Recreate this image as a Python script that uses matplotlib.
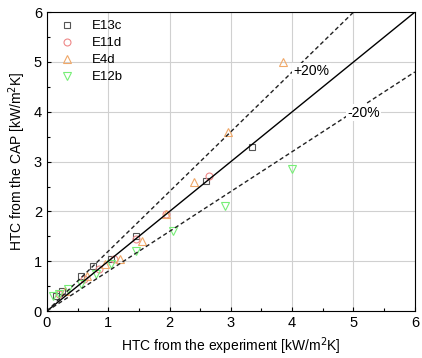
import matplotlib
matplotlib.use("Agg")
import matplotlib.pyplot as plt
from matplotlib.ticker import MultipleLocator

plt.rcParams["font.family"] = ["Liberation Sans", "DejaVu Sans"]

# data (kW/m2K)
e13c_x = [0.15, 0.25, 0.55, 0.75, 1.05, 1.45, 2.6, 3.35]
e13c_y = [0.3, 0.4, 0.7, 0.9, 1.05, 1.5, 2.62, 3.3]
e11d_x = [0.2, 0.6, 0.85, 1.1, 1.45, 1.95, 2.65]
e11d_y = [0.35, 0.65, 0.85, 1.05, 1.45, 1.95, 2.72]
e4d_x = [0.3, 0.65, 0.95, 1.2, 1.55, 1.95, 2.4, 2.95, 3.85]
e4d_y = [0.4, 0.7, 0.95, 1.05, 1.4, 1.95, 2.6, 3.6, 5.0]
e12b_x = [0.1, 0.2, 0.35, 0.55, 0.8, 1.05, 1.45, 2.05, 2.9, 4.0]
e12b_y = [0.3, 0.35, 0.45, 0.55, 0.75, 0.95, 1.2, 1.6, 2.1, 2.85]

fig = plt.figure(figsize=(4.22, 3.58), dpi=100)
ax = fig.add_axes([0.111, 0.131, 0.872, 0.835])

ax.grid(True, color="#d0d0d0", linewidth=0.8)
ax.set_axisbelow(True)

ms = 5
ax.plot(e13c_x, e13c_y, "s", mfc="none", mec="#555555", ms=ms, mew=0.8, label="E13c")
ax.plot(e11d_x, e11d_y, "o", mfc="none", mec="#ee8888", ms=ms, mew=0.8, label="E11d")
ax.plot(e4d_x, e4d_y, "^", mfc="none", mec="#f0a868", ms=ms + 1, mew=0.8, label="E4d")
ax.plot(e12b_x, e12b_y, "v", mfc="none", mec="#77ee77", ms=ms + 1, mew=0.8, label="E12b")

ax.plot([0, 6], [0, 6], color="black", linewidth=1)
ax.plot([0, 5], [0, 6], "--", color="#222222", linewidth=1, dashes=(3, 2))
ax.plot([0, 6], [0, 4.8], "--", color="#222222", linewidth=1, dashes=(3, 2))
box = dict(facecolor="white", edgecolor="none", pad=1)
ax.text(4.02, 4.82, "+20%", fontsize=10, va="center", ha="left", bbox=box)
ax.text(4.9, 3.98, "-20%", fontsize=10, va="center", ha="left", bbox=box)

ax.set_xlim(0, 6)
ax.set_ylim(0, 6)
ax.xaxis.set_major_locator(MultipleLocator(1))
ax.yaxis.set_major_locator(MultipleLocator(1))
ax.xaxis.set_minor_locator(MultipleLocator(0.5))
ax.yaxis.set_minor_locator(MultipleLocator(0.5))
ax.tick_params(which="both", direction="in", labelsize=10.5, width=0.8)
ax.tick_params(which="major", length=3)
ax.tick_params(which="minor", length=2)

ax.set_xlabel("HTC from the experiment [kW/m$^2$K]", fontsize=10)
ax.set_ylabel("HTC from the CAP [kW/m$^2$K]", fontsize=10)

ax.legend(loc="upper left", frameon=False, fontsize=9.5, handletextpad=1.0,
          labelspacing=0.36, borderaxespad=0.3, handlelength=1.8,
          borderpad=0.3)

fig.savefig("out.png", dpi=100)
